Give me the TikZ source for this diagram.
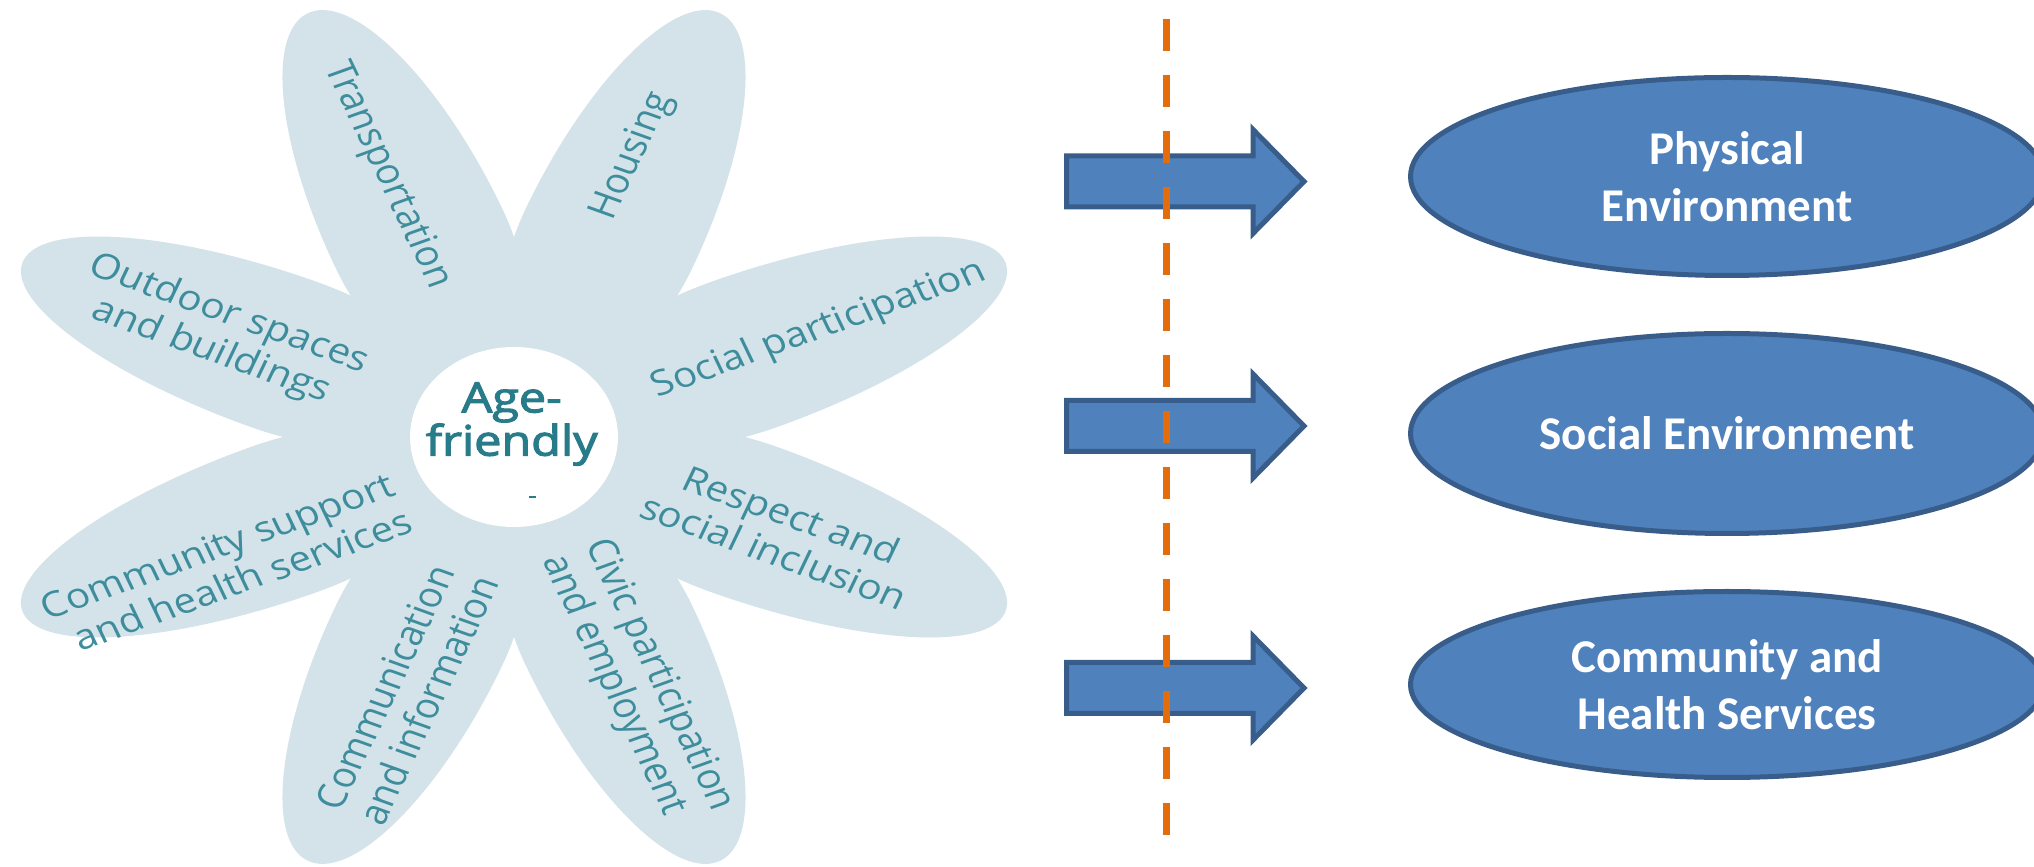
\documentclass[tikz,border=0pt]{standalone}
\usepackage{fontspec}
\usetikzlibrary{shapes.geometric}
\newfontfamily\calibri{Carlito}
\newfontfamily\flowerfont{Open Sans}
\newfontfamily\agefont[FakeBold=2.5]{Open Sans}
\definecolor{petalc}{RGB}{211,227,233}
\definecolor{tealc}{RGB}{62,141,156}
\definecolor{agec}{RGB}{40,124,138}
\definecolor{bluec}{RGB}{79,129,189}
\definecolor{bordc}{RGB}{56,93,138}
\definecolor{orangec}{RGB}{228,108,10}
\begin{document}
\begin{tikzpicture}[x=1pt,y=1pt,
  ptext/.style={font=\flowerfont\fontsize{35}{40}\selectfont, text=tealc, transform shape, inner sep=0pt},
  agetext/.style={font=\agefont\fontsize{42}{38}\selectfont, text=agec, align=center, transform shape, inner sep=0pt},
  env/.style={ellipse, draw=bordc, fill=bluec, line width=5pt, inner sep=0pt, minimum width=633pt,
    text=white, font=\calibri\bfseries\fontsize{47}{57}\selectfont, align=center},
  barrow/.style={draw=bordc, fill=bluec, line width=5pt, miter limit=20},
  divider/.style={draw=orangec, line width=7.5pt, dash pattern=on 32pt off 24pt}]
\useasboundingbox (0,0) rectangle (2034,867);
\clip (0,0) rectangle (2034,867);

% flower
\begin{scope}[shift={(514,430)}, xscale=1.155]
  \fill[petalc] (0,0) circle (160);
  \foreach \a in {22.5,67.5,112.5,157.5,202.5,247.5,292.5,337.5}
    \fill[petalc, rotate=\a] (0,10) .. controls (80,45) and (130,78) .. (215,78)
      .. controls (350,78) and (460,43) .. (460,0)
      .. controls (460,-43) and (350,-78) .. (215,-78)
      .. controls (130,-78) and (80,-45) .. (0,-10) -- cycle;
  \fill[white] (0,0) circle (90);
  \node[ptext, rotate=-67.5] (t1) at (112.8:284) {Transportation};
  \node[ptext, rotate=67.5] (t2) at (69.9:299) {Housing};
  \node[ptext, rotate=22.5] (t3) at (22.1:285) {Social participation};
  \node[ptext, rotate=-22.5, align=center] (t4) at (-22.4:252) {Respect and\\social inclusion};
  \node[ptext, rotate=-67.5, align=left] (t5) at (-66.6:268) {Civic participation\\and employment};
  \node[ptext, rotate=67.5, align=left] (t6) at (-109.9:272) {Communication\\and information};
  \node[ptext, rotate=22.5, align=right] (t7) at (-153:280) {Community support\\and health services};
  \node[ptext, rotate=-22.5, align=center] (t8) at (157.8:275) {Outdoor spaces\\and buildings};
  \node[agetext] (age) at (-2,13) {Age-\\friendly};
  \draw[agec, line width=2pt] (13,-60) -- (19,-60);
\end{scope}

% ellipses
\node[env, minimum height=198pt] (e1) at (1727,690.5) {Physical\\Environment};
\node[env, minimum height=200pt] (e2) at (1727,433.5) {Social Environment};
\node[env, minimum height=186pt] (e3) at (1727,182.5) {Community and\\Health Services};

% block arrows
\foreach \yc/\nm in {685.5/a1, 441/a2, 179/a3}{
  \draw[barrow] (1066.5,\yc+25.5) -- (1253,\yc+25.5) -- (1253,\yc+52) -- (1304,\yc)
    -- (1253,\yc-52) -- (1253,\yc-25.5) -- (1066.5,\yc-25.5) -- cycle;
}

% dashed divider
\coordinate (dtop) at (1166.5,848);
\coordinate (dbot) at (1166.5,32);
\draw[divider] (dtop) -- (dbot);
\end{tikzpicture}
\end{document}
